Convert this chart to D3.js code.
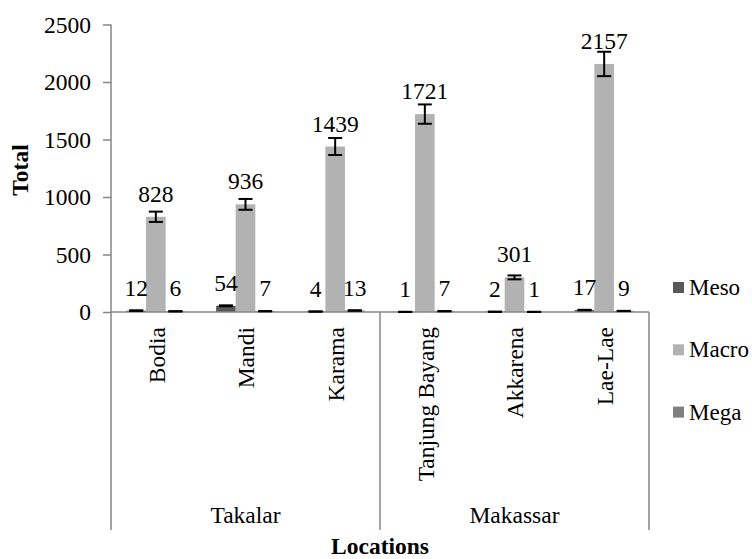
<!DOCTYPE html>
<html>
<head>
<meta charset="utf-8">
<script src="https://cdn.jsdelivr.net/npm/d3@7"></script>
<style>
  body { margin: 0; background: #fff; }
  text { font-family: "Liberation Serif", "Times New Roman", serif; fill: #000; }
</style>
</head>
<body>
<svg id="chart" width="752" height="559"></svg>
<script>
// data
var locations = ["Bodia", "Mandi", "Karama", "Tanjung Bayang", "Akkarena", "Lae-Lae"];
var regions = ["Takalar", "Takalar", "Takalar", "Makassar", "Makassar", "Makassar"];
var seriesNames = ["Meso", "Macro", "Mega"];
var meso = [12, 54, 4, 1, 2, 17];
var macro = [828, 936, 1439, 1721, 301, 2157];
var mega = [6, 7, 13, 7, 1, 9];
var mesoErr = [3, 4, 1, 1, 1, 2];
var macroErr = [45, 47, 74, 84, 17, 106];
var megaErr = [1, 1, 2, 1, 1, 1];
var yTicks = [0, 500, 1000, 1500, 2000, 2500];

var colors = { Meso: "#595959", Macro: "#b2b2b2", Mega: "#7f7f7f" };
var axisColor = "#868686";
var fs = 23.5;

var svg = d3.select("#chart");
var plotLeft = 111, plotRight = 649, plotTop = 24.5, plotBottom = 312, groupBottom = 530;

var x = d3.scaleBand().domain(locations).range([plotLeft, plotRight]).padding(0);
var xs = d3.scaleBand().domain(seriesNames)
    .range([x.bandwidth() * 0.172, x.bandwidth() * 0.828]).padding(0);
var y = d3.scaleLinear().domain([0, 2500]).range([plotBottom, plotTop]);

// build rows from arrays
var rows = [];
locations.forEach(function(loc, i) {
    rows.push({ loc: loc, s: "Meso", v: meso[i], e: mesoErr[i] });
    rows.push({ loc: loc, s: "Macro", v: macro[i], e: macroErr[i] });
    rows.push({ loc: loc, s: "Mega", v: mega[i], e: megaErr[i] });
});

// y axis
var yAxis = svg.append("g")
    .attr("transform", "translate(" + plotLeft + ",0)")
    .call(d3.axisLeft(y).tickValues(yTicks).tickFormat(d3.format("d"))
        .tickSize(8).tickPadding(12).tickSizeOuter(0));
yAxis.select(".domain").remove();
yAxis.selectAll(".tick line").attr("stroke", axisColor).attr("stroke-width", 1.5);
yAxis.selectAll(".tick text").attr("font-size", fs)
    .style("font-family", "Liberation Serif, serif").attr("fill", "#000");

svg.append("line")
    .attr("x1", plotLeft).attr("x2", plotLeft).attr("y1", y(2500)).attr("y2", groupBottom)
    .attr("stroke", axisColor).attr("stroke-width", 1.5);

// bars
svg.append("g").selectAll("rect")
    .data(rows)
    .enter()
    .append("rect")
        .attr("x", function(d) { return x(d.loc) + xs(d.s); })
        .attr("width", xs.bandwidth())
        .attr("y", function(d) { return y(d.v); })
        .attr("height", function(d) { return y(0) - y(d.v); })
        .attr("fill", function(d) { return colors[d.s]; });

// x axis line
svg.append("line")
    .attr("x1", plotLeft).attr("x2", plotRight).attr("y1", y(0)).attr("y2", y(0))
    .attr("stroke", axisColor).attr("stroke-width", 1.5);

// error bars
var eb = svg.append("g").selectAll("g")
    .data(rows)
    .enter()
    .append("g")
    .attr("transform", function(d) {
        return "translate(" + (x(d.loc) + xs(d.s) + xs.bandwidth() / 2) + ",0)";
    });
eb.append("line")
    .attr("y1", function(d) { return y(d.v + d.e); })
    .attr("y2", function(d) { return y(Math.max(0, d.v - d.e)); })
    .attr("stroke", "#000").attr("stroke-width", 2);
eb.append("line")
    .attr("x1", -7).attr("x2", 7)
    .attr("y1", function(d) { return y(d.v + d.e); })
    .attr("y2", function(d) { return y(d.v + d.e); })
    .attr("stroke", "#000").attr("stroke-width", 2);
eb.append("line")
    .attr("x1", -7).attr("x2", 7)
    .attr("y1", function(d) { return y(Math.max(0, d.v - d.e)); })
    .attr("y2", function(d) { return y(Math.max(0, d.v - d.e)); })
    .attr("stroke", "#000").attr("stroke-width", 2);

// value labels
svg.append("g").selectAll("text")
    .data(rows)
    .enter()
    .append("text")
        .attr("x", function(d) { return x(d.loc) + xs(d.s) + xs.bandwidth() / 2; })
        .attr("y", function(d) { return y(d.v) - 15; })
        .attr("text-anchor", "middle")
        .attr("font-size", fs)
        .text(function(d) { return d.v; });

// category labels (rotated)
svg.append("g").selectAll("text")
    .data(locations)
    .enter()
    .append("text")
        .attr("transform", function(d) {
            return "translate(" + (x(d) + x.bandwidth() / 2 + 1) + "," + 327 + ") rotate(-90)";
        })
        .attr("text-anchor", "end")
        .attr("dy", "0.33em")
        .attr("font-size", fs)
        .text(function(d) { return d; });

// region groups
var groupNames = Array.from(new Set(regions));
var groups = groupNames.map(function(g) {
    var locs = locations.filter(function(l, i) { return regions[i] === g; });
    return { name: g, x0: x(locs[0]), x1: x(locs[locs.length - 1]) + x.bandwidth() };
});
svg.append("g").selectAll("line")
    .data(groups)
    .enter()
    .append("line")
        .attr("x1", function(d) { return d.x1; })
        .attr("x2", function(d) { return d.x1; })
        .attr("y1", y(0)).attr("y2", groupBottom)
        .attr("stroke", axisColor).attr("stroke-width", 1.5);
svg.append("g").selectAll("text")
    .data(groups)
    .enter()
    .append("text")
        .attr("x", function(d) { return (d.x0 + d.x1) / 2; })
        .attr("y", 523)
        .attr("text-anchor", "middle")
        .attr("font-size", fs)
        .text(function(d) { return d.name; });

// axis titles
svg.append("text")
    .attr("x", (plotLeft + plotRight) / 2).attr("y", 554)
    .attr("text-anchor", "middle")
    .attr("font-size", fs).attr("font-weight", "bold")
    .text("Locations");
svg.append("text")
    .attr("transform", "translate(28,170) rotate(-90)")
    .attr("text-anchor", "middle")
    .attr("font-size", fs).attr("font-weight", "bold")
    .text("Total");

// legend
var legend = svg.append("g").selectAll("g")
    .data(seriesNames)
    .enter()
    .append("g")
    .attr("transform", function(d, i) { return "translate(673," + (287.5 + i * 62.3) + ")"; });
legend.append("rect")
    .attr("x", 0).attr("y", -5.5).attr("width", 11).attr("height", 11)
    .attr("fill", function(d) { return colors[d]; });
legend.append("text")
    .attr("x", 16).attr("dy", "0.33em")
    .attr("font-size", 23)
    .text(function(d) { return d; });
</script>
</body>
</html>
